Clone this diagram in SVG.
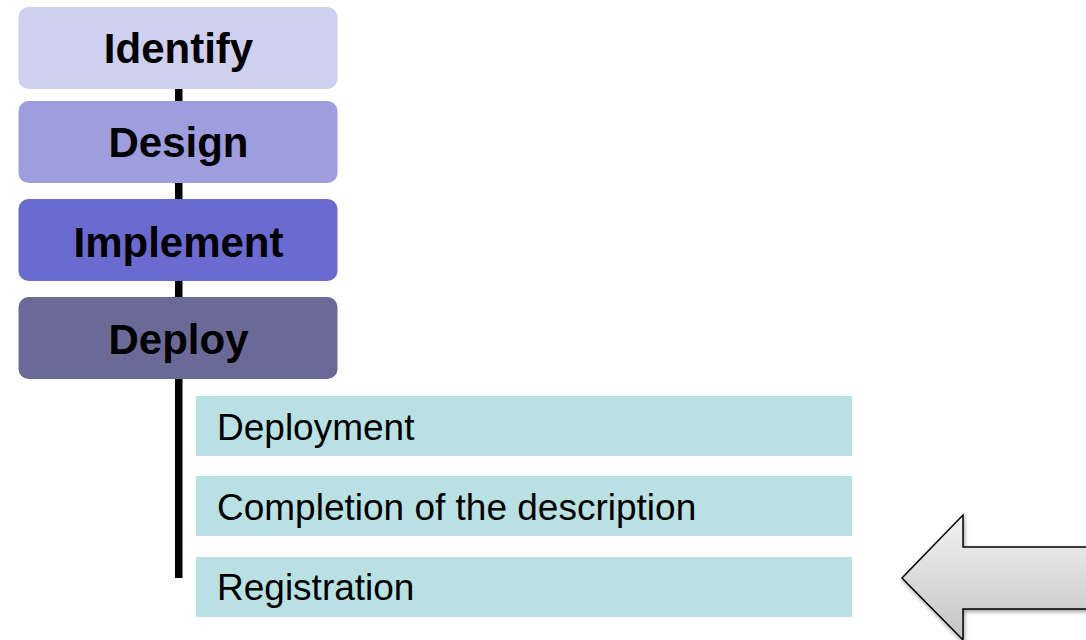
<svg xmlns="http://www.w3.org/2000/svg" width="1086" height="640" viewBox="0 0 1086 640">
<style>
.stage{stroke:none}
.lbl{font-family:"Liberation Sans",Arial,sans-serif;font-weight:bold;font-size:42px;fill:#000;text-anchor:middle}
.sub{fill:#B9E0E2}
.subt{font-family:"Liberation Sans",Arial,sans-serif;font-size:37px;fill:#000}
</style>
<defs>
<linearGradient id="ag" x1="0" y1="0" x2="0" y2="1">
<stop offset="0" stop-color="#f2f2f2"/>
<stop offset="1" stop-color="#c4c4c4"/>
</linearGradient>
<filter id="sh" x="-20%" y="-20%" width="140%" height="140%">
<feGaussianBlur in="SourceAlpha" stdDeviation="2"/>
<feOffset dx="1" dy="2"/>
<feComponentTransfer><feFuncA type="linear" slope="0.4"/></feComponentTransfer>
<feMerge><feMergeNode/><feMergeNode in="SourceGraphic"/></feMerge>
</filter>
</defs>
<rect width="1086" height="640" fill="#fff"/>
<g id="connectors">
<rect x="175" y="85" width="7.5" height="493" fill="#000"/>
</g>
<g id="identify">
<rect class="stage" x="18.5" y="7" width="319" height="82" rx="10" fill="#CFCFEE"/>
<text class="lbl" x="178.5" y="63">Identify</text>
</g>
<g id="design">
<rect class="stage" x="18.5" y="101" width="319" height="82" rx="10" fill="#9E9DDD"/>
<text class="lbl" x="178.5" y="157">Design</text>
</g>
<g id="implement">
<rect class="stage" x="18.5" y="199" width="319" height="82" rx="10" fill="#6B6ACF"/>
<text class="lbl" x="178.5" y="257">Implement</text>
</g>
<g id="deploy">
<rect class="stage" x="18.5" y="297" width="319" height="82" rx="10" fill="#6B6A96"/>
<text class="lbl" x="178.5" y="354">Deploy</text>
</g>
<g id="deployment">
<rect class="sub" x="196" y="396" width="656" height="60"/>
<text class="subt" x="217" y="440">Deployment</text>
</g>
<g id="completion">
<rect class="sub" x="196" y="476" width="656" height="60"/>
<text class="subt" x="217" y="520">Completion of the description</text>
</g>
<g id="registration">
<rect class="sub" x="196" y="557" width="656" height="60"/>
<text class="subt" x="217" y="600">Registration</text>
</g>
<g id="arrow">
<path d="M1090,547 L963,547 L963,515 L902,578 L963,640 L963,609 L1090,609 Z" fill="url(#ag)" stroke="#000" stroke-width="1.5" stroke-linejoin="miter" filter="url(#sh)"/>
</g>
</svg>
